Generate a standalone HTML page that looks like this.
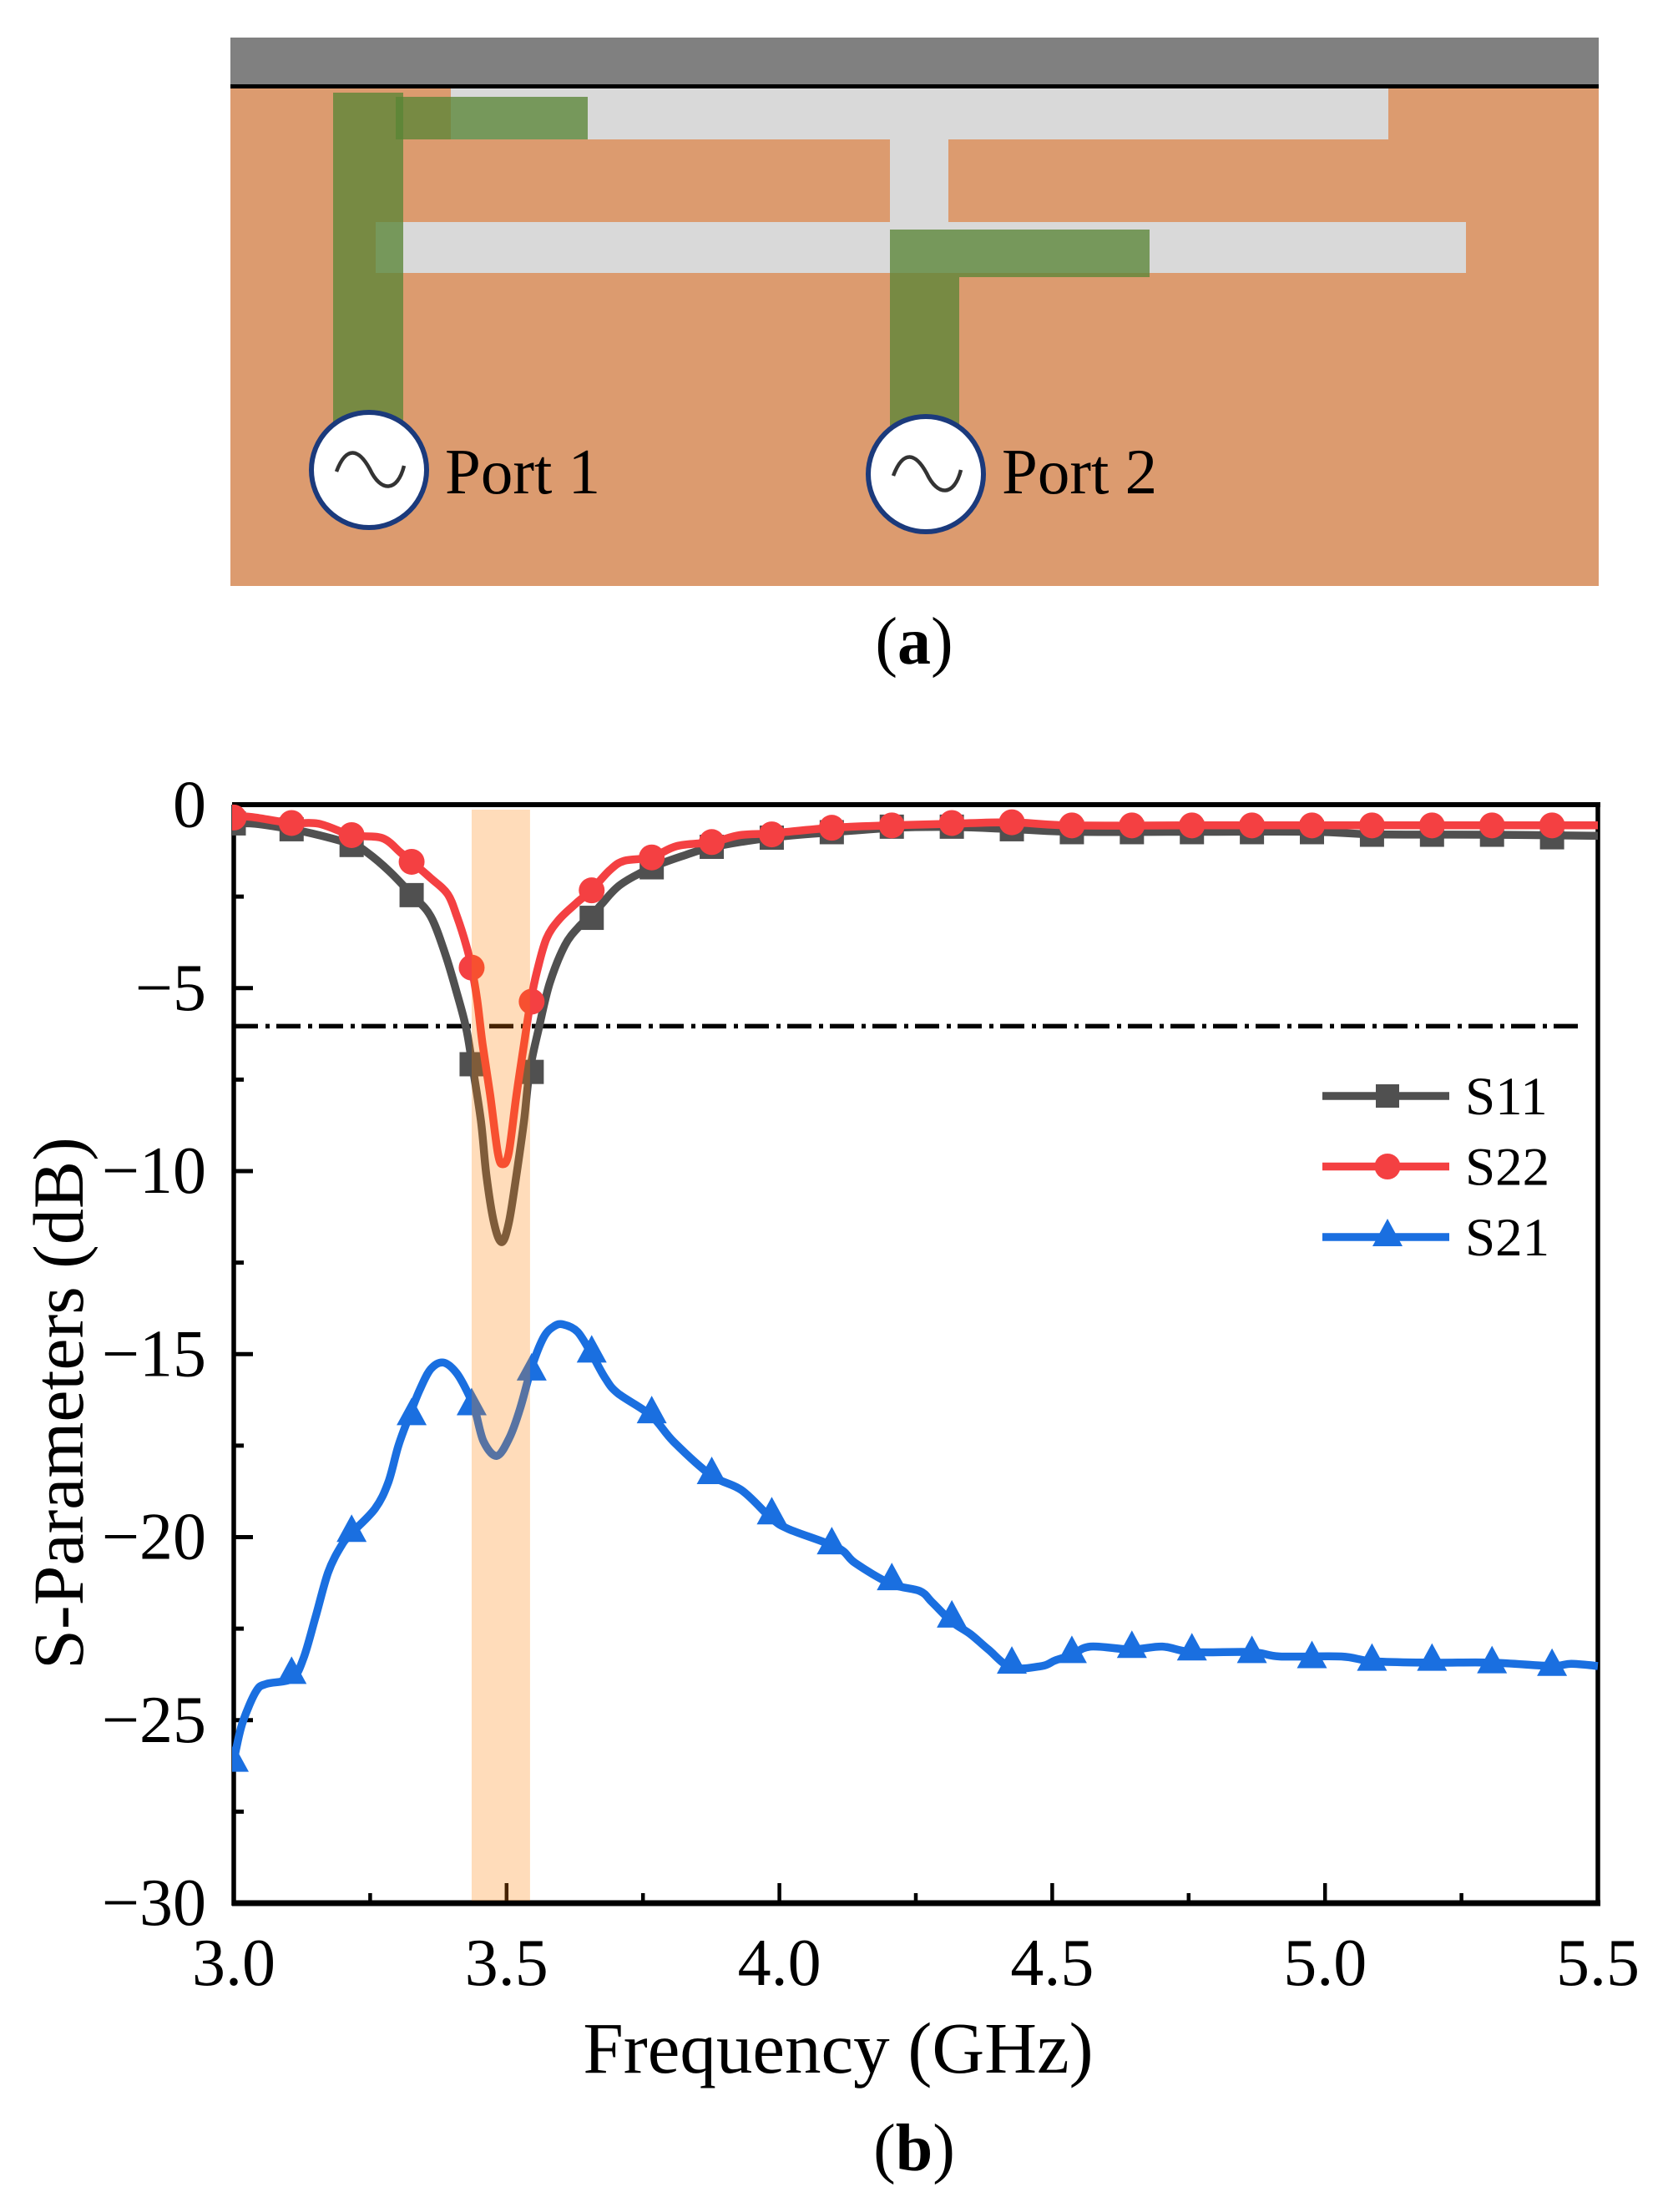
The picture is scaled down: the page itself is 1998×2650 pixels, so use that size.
<!DOCTYPE html>
<html lang="en">
<head>
<meta charset="utf-8">
<title>S-Parameters Figure</title>
<style>
html,body{margin:0;padding:0;background:#fff;width:1998px;height:2650px;overflow:hidden}
svg{display:block}
text{font-family:"Liberation Serif","DejaVu Serif",serif;fill:#000}
</style>
</head>
<body>
<svg id="fig" xmlns="http://www.w3.org/2000/svg" width="1998" height="2650" viewBox="0 0 1998 2650">
  <rect x="0" y="0" width="1998" height="2650" fill="#fff"/>
  <g>
    <rect x="276" y="104" width="1639" height="598" fill="#DC9B6F"/>
    <rect x="276" y="45" width="1639" height="58" fill="#808080"/>
    <rect x="276" y="101" width="1639" height="5" fill="#000"/>
    <rect x="540" y="106" width="1123" height="61" fill="#D9D9D9"/>
    <rect x="1066" y="167" width="70" height="99" fill="#D9D9D9"/>
    <rect x="450" y="266" width="1306" height="61" fill="#D9D9D9"/>
    <rect x="399" y="111" width="84" height="400" fill="rgb(88,133,53)" fill-opacity="0.77"/>
    <rect x="474" y="116" width="230" height="51" fill="rgb(88,133,53)" fill-opacity="0.77"/>
    <rect x="1066" y="275" width="83" height="240" fill="rgb(88,133,53)" fill-opacity="0.77"/>
    <rect x="1149" y="275" width="228" height="57" fill="rgb(88,133,53)" fill-opacity="0.77"/>
    <circle cx="442" cy="563" r="69" fill="#fff" stroke="#1B3A7C" stroke-width="6"/>
    <path d="M403,565 C415,533 430,538 443,562 C456,590 476,590 484,558" fill="none" stroke="#333" stroke-width="4.5"/>
    <circle cx="1109" cy="568" r="69" fill="#fff" stroke="#1B3A7C" stroke-width="6"/>
    <path d="M1070,570 C1082,538 1097,543 1110,567 C1123,595 1143,595 1151,563" fill="none" stroke="#333" stroke-width="4.5"/>
    <text x="533" y="591" font-size="77">Port 1</text>
    <text x="1200" y="591" font-size="77">Port 2</text>
  </g>
  <text x="1095" y="795" font-size="80" text-anchor="middle">(<tspan font-weight="bold">a</tspan>)</text>
  <text x="1095" y="2600" font-size="80" text-anchor="middle">(<tspan font-weight="bold">b</tspan>)</text>
  <text x="1004" y="2483" font-size="87" text-anchor="middle">Frequency (GHz)</text>
  <text transform="translate(99,1681) rotate(-90)" font-size="86" text-anchor="middle">S-Parameters (dB)</text>
  <g id="chart"></g>
</svg>
<script>
// ---- chart data ----
const xMajorTicks = [3.0, 3.5, 4.0, 4.5, 5.0, 5.5];
const xMinorTicks = [3.25, 3.75, 4.25, 4.75, 5.25];
const xTickLabels = ["3.0", "3.5", "4.0", "4.5", "5.0", "5.5"];
const yMajorTicks = [0, -5, -10, -15, -20, -25, -30];
const yMinorTicks = [-2.5, -7.5, -12.5, -17.5, -22.5, -27.5];
const yTickLabels = ["0", "\u22125", "\u221210", "\u221215", "\u221220", "\u221225", "\u221230"];
const bandRange = [3.436, 3.543];
const thresholdDb = -6.04;
const thresholdRange = [3.0, 5.465];

const markerFreq = [3.0, 3.106, 3.216, 3.326, 3.436, 3.546, 3.656, 3.766, 3.876, 3.986, 4.096, 4.206, 4.316, 4.426, 4.536, 4.646, 4.756, 4.866, 4.976, 5.086, 5.196, 5.306, 5.416];
const s11Markers = [-0.5, -0.66, -1.09, -2.46, -7.08, -7.29, -3.08, -1.70, -1.14, -0.89, -0.74, -0.59, -0.59, -0.66, -0.74, -0.74, -0.74, -0.74, -0.74, -0.81, -0.81, -0.81, -0.88];
const s22Markers = [-0.34, -0.49, -0.82, -1.55, -4.44, -5.37, -2.33, -1.43, -1.01, -0.80, -0.62, -0.555, -0.49, -0.47, -0.555, -0.555, -0.555, -0.555, -0.555, -0.555, -0.555, -0.555, -0.555];
const s21Markers = [-26.16, -23.76, -19.88, -16.69, -16.42, -15.47, -14.98, -16.64, -18.30, -19.40, -20.22, -21.20, -22.22, -23.48, -23.19, -23.05, -23.12, -23.19, -23.33, -23.40, -23.40, -23.47, -23.54];

const s11Freq = [3.0, 3.04, 3.106, 3.156, 3.22, 3.245, 3.286, 3.327, 3.361, 3.388, 3.409, 3.426, 3.437, 3.453, 3.463, 3.477, 3.491, 3.504, 3.518, 3.532, 3.542, 3.559, 3.579, 3.607, 3.634, 3.657, 3.675, 3.709, 3.767, 3.825, 3.88, 3.99, 4.10, 4.21, 4.32, 4.43, 4.54, 4.76, 4.98, 5.09, 5.30, 5.5];
const s11Values = [-0.5, -0.51, -0.66, -0.82, -1.09, -1.30, -1.82, -2.46, -3.04, -4.09, -5.14, -6.10, -7.08, -8.63, -10.11, -11.42, -11.94, -11.42, -10.11, -8.63, -7.29, -6.10, -4.87, -3.83, -3.30, -3.0, -2.69, -2.17, -1.70, -1.38, -1.14, -0.88, -0.74, -0.62, -0.60, -0.66, -0.73, -0.73, -0.73, -0.80, -0.81, -0.84];

const s22Freq = [3.0, 3.04, 3.104, 3.156, 3.216, 3.272, 3.306, 3.327, 3.361, 3.392, 3.409, 3.426, 3.436, 3.446, 3.456, 3.47, 3.484, 3.493, 3.504, 3.518, 3.532, 3.544, 3.556, 3.573, 3.596, 3.627, 3.655, 3.689, 3.716, 3.765, 3.812, 3.877, 3.928, 3.986, 4.096, 4.206, 4.316, 4.426, 4.53, 4.756, 5.086, 5.5];
const s22Values = [-0.29, -0.34, -0.49, -0.51, -0.82, -0.90, -1.30, -1.56, -1.995, -2.43, -3.04, -3.83, -4.44, -5.31, -6.53, -7.93, -9.50, -9.81, -9.50, -7.93, -6.53, -5.37, -4.53, -3.65, -3.13, -2.69, -2.33, -1.78, -1.52, -1.43, -1.12, -1.01, -0.82, -0.77, -0.62, -0.555, -0.51, -0.47, -0.555, -0.555, -0.555, -0.555];

const s21Freq = [3.0, 3.005, 3.017, 3.041, 3.06, 3.107, 3.128, 3.15, 3.173, 3.197, 3.216, 3.259, 3.283, 3.302, 3.322, 3.341, 3.361, 3.384, 3.408, 3.431, 3.443, 3.458, 3.482, 3.505, 3.525, 3.546, 3.568, 3.587, 3.604, 3.63, 3.656, 3.681, 3.704, 3.765, 3.806, 3.875, 3.931, 3.985, 4.017, 4.107, 4.139, 4.205, 4.257, 4.28, 4.316, 4.35, 4.383, 4.425, 4.481, 4.505, 4.536, 4.57, 4.645, 4.702, 4.756, 4.866, 4.917, 5.03, 5.086, 5.195, 5.306, 5.414, 5.451, 5.5];
const s21Values = [-26.15, -25.74, -25.03, -24.21, -24.01, -23.86, -23.30, -22.18, -20.96, -20.24, -19.89, -19.22, -18.51, -17.49, -16.68, -15.97, -15.41, -15.23, -15.51, -16.12, -16.58, -17.39, -17.78, -17.29, -16.48, -15.36, -14.54, -14.24, -14.19, -14.39, -15.0, -15.66, -16.07, -16.68, -17.39, -18.31, -18.72, -19.48, -19.78, -20.29, -20.71, -21.28, -21.47, -21.78, -22.31, -22.65, -23.07, -23.56, -23.52, -23.37, -23.22, -22.99, -23.07, -22.99, -23.14, -23.14, -23.26, -23.26, -23.39, -23.43, -23.43, -23.52, -23.46, -23.52];

const legendNames = ["S11", "S22", "S21"];

// ---- axis functions ----
const SVGNS = "http://www.w3.org/2000/svg";
const chart = document.getElementById("chart");
const plotLeft = 280, plotRight = 1914, plotTop = 964, plotBottom = 2280;
function xScale(f) { return plotLeft + (f - 3.0) * (plotRight - plotLeft) / 2.5; }
function yScale(v) { return 964.5 - v * 43.85; }

function make(tag, attrs, parent) {
  const el = document.createElementNS(SVGNS, tag);
  for (const k in attrs) el.setAttribute(k, attrs[k]);
  (parent || chart).appendChild(el);
  return el;
}
function smoothPath(freqs, values) {
  const p = freqs.map((f, i) => [xScale(f), yScale(values[i])]);
  let d = "M" + p[0][0].toFixed(1) + "," + p[0][1].toFixed(1);
  for (let i = 0; i < p.length - 1; i++) {
    const a = p[Math.max(i - 1, 0)], b = p[i], c = p[i + 1], e = p[Math.min(i + 2, p.length - 1)];
    const c1x = b[0] + (c[0] - a[0]) / 6, c1y = b[1] + (c[1] - a[1]) / 6;
    const c2x = c[0] - (e[0] - b[0]) / 6, c2y = c[1] - (e[1] - b[1]) / 6;
    d += "C" + c1x.toFixed(1) + "," + c1y.toFixed(1) + " " + c2x.toFixed(1) + "," + c2y.toFixed(1) + " " + c[0].toFixed(1) + "," + c[1].toFixed(1);
  }
  return d;
}
function trianglePoints(cx, cy) {
  return (cx - 18) + "," + (cy + 11) + " " + (cx + 18) + "," + (cy + 11) + " " + cx + "," + (cy - 22);
}

// clip region
const defs = make("defs", {});
const clip = make("clipPath", { id: "plot-clip" }, defs);
make("rect", { x: plotLeft - 2, y: plotTop - 3, width: plotRight - plotLeft + 3, height: plotBottom - plotTop + 6 }, clip);

// axis frame
const frameTop = make("line", { x1: plotLeft - 2, x2: plotRight + 3, y1: plotTop, y2: plotTop, stroke: "#000", "stroke-width": 6 });


const frameRight = make("line", { x1: plotRight, x2: plotRight, y1: plotTop, y2: plotBottom, stroke: "#000", "stroke-width": 5.5 });


const axisLeft = make("line", { x1: plotLeft, x2: plotLeft, y1: plotTop, y2: plotBottom + 3, stroke: "#000", "stroke-width": 5.5 });


const axisBottom = make("line", { x1: plotLeft - 2, x2: plotRight + 3, y1: plotBottom, y2: plotBottom, stroke: "#000", "stroke-width": 7 });



// ticks
xMajorTicks.forEach(function (t, i) {
  const tick = make("line", { x1: xScale(t), x2: xScale(t), y1: plotBottom, y2: plotBottom - 24, stroke: "#000", "stroke-width": 4.5 });
  
  
  const label = make("text", { x: xScale(t), y: 2378, "font-size": 80, "text-anchor": "middle" });
  label.textContent = xTickLabels[i];
  
  
});
xMinorTicks.forEach(function (t) {
  const tick = make("line", { x1: xScale(t), x2: xScale(t), y1: plotBottom, y2: plotBottom - 12, stroke: "#000", "stroke-width": 4.5 });
  
  
});
yMajorTicks.forEach(function (t, i) {
  const tick = make("line", { x1: plotLeft, x2: plotLeft + 23, y1: yScale(t), y2: yScale(t), stroke: "#000", "stroke-width": 5 });
  
  
  const label = make("text", { x: 247, y: yScale(t) + 26, "font-size": 80, "text-anchor": "end" });
  label.textContent = yTickLabels[i];
  
  
});
yMinorTicks.forEach(function (t) {
  const tick = make("line", { x1: plotLeft, x2: plotLeft + 12, y1: yScale(t), y2: yScale(t), stroke: "#000", "stroke-width": 5 });
  
  
});

// threshold line
const threshold = make("line", { x1: xScale(thresholdRange[0]), x2: xScale(thresholdRange[1]), y1: yScale(thresholdDb), y2: yScale(thresholdDb), stroke: "#000", "stroke-width": 5.5, "stroke-dasharray": "29 9 5 8" });



// series
const seriesLayer = make("g", { "clip-path": "url(#plot-clip)" });



const s11Color = "#505050", s22Color = "#F44042", s21Color = "#1A6FE0";

const s11Line = make("path", { d: smoothPath(s11Freq, s11Values), fill: "none", stroke: s11Color, "stroke-width": 9.5, "stroke-linejoin": "round" }, seriesLayer);


markerFreq.forEach(function (f, i) {
  const m = make("rect", { x: xScale(f) - 14.5, y: yScale(s11Markers[i]) - 14.5, width: 29, height: 29, fill: s11Color }, seriesLayer);
  
  
});

const s22Line = make("path", { d: smoothPath(s22Freq, s22Values), fill: "none", stroke: s22Color, "stroke-width": 9.5, "stroke-linejoin": "round" }, seriesLayer);


markerFreq.forEach(function (f, i) {
  const m = make("circle", { cx: xScale(f), cy: yScale(s22Markers[i]), r: 15.5, fill: s22Color }, seriesLayer);
  
  
});

const s21Line = make("path", { d: smoothPath(s21Freq, s21Values), fill: "none", stroke: s21Color, "stroke-width": 9.5, "stroke-linejoin": "round" }, seriesLayer);


markerFreq.forEach(function (f, i) {
  const m = make("polygon", { points: trianglePoints(xScale(f), yScale(s21Markers[i])), fill: s21Color }, seriesLayer);
  
  
});

// operating band drawn over the curves (tints them)
const band = make("rect", { x: xScale(bandRange[0]), y: 970, width: xScale(bandRange[1]) - xScale(bandRange[0]), height: plotBottom - 3 - 970, fill: "rgb(255,125,0)", "fill-opacity": 0.27 });



// legend
const legendColors = [s11Color, s22Color, s21Color];
const legend = make("g", {});


legendNames.forEach(function (name, i) {
  const rowY = 1313 + i * 84.5;
  const line = make("line", { x1: 1584, x2: 1736, y1: rowY, y2: rowY, stroke: legendColors[i], "stroke-width": 9.5 }, legend);
  
  
  let mark;
  if (i === 0) {
    mark = make("rect", { x: 1662 - 14, y: rowY - 14, width: 28, height: 28, fill: legendColors[i] }, legend);
  } else if (i === 1) {
    mark = make("circle", { cx: 1662, cy: rowY, r: 15.5, fill: legendColors[i] }, legend);
  } else {
    mark = make("polygon", { points: trianglePoints(1662, rowY), fill: legendColors[i] }, legend);
  }
  
  
  const label = make("text", { x: 1755, y: rowY + 22, "font-size": 65 }, legend);
  label.textContent = name;
  
  
});
</script>
</body>
</html>
